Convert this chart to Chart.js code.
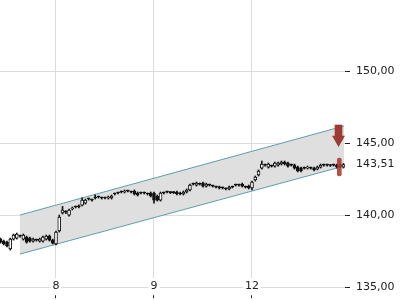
<!DOCTYPE html>
<html>
<head>
<meta charset="utf-8">
<script src="https://cdn.jsdelivr.net/npm/chart.js@4"></script>
<style>
  html, body { margin: 0; background: #fff; }
  #wrap { width: 400px; height: 300px; }
</style>
</head>
<body>
<div id="wrap"><canvas id="chart" width="400" height="300"></canvas></div>
<script>
// x axis day labels (trading days, weekend skipped)
const dayLabels = ["8", "9", "12"];

// sessions: tail of day 7, then 8, 9, 12
const sessionStart = [0, 1, 2, 3];
const sessionFirstSlot = [13, 0, 0, 0];
const sessionBars = [17, 30, 30, 29];
const slotsPerDay = 30;

const openPrices = [
  138.33, 138.19, 138.12, 137.64, 138.33, 138.40, 138.54, 138.33, 138.47, 138.40, 138.19, 138.26, 138.19, 138.19, 138.33, 138.54, 138.26,
  137.99, 138.89, 140.14, 140.20, 139.99, 140.42, 140.56, 140.63, 140.69, 140.83, 141.11, 141.04, 141.18, 141.25, 141.18,
  141.18, 141.18, 141.18, 141.46, 141.53, 141.60, 141.60, 141.67, 141.60, 141.67, 141.53, 141.53, 141.53, 141.46, 141.53,
  141.53, 141.32, 141.04, 141.53, 141.60, 141.56, 141.56, 141.60, 141.53, 141.46, 141.60, 141.74, 142.15, 142.08, 142.15,
  142.22, 142.01, 142.08, 142.01, 141.94, 141.94, 141.88, 141.81, 141.81, 141.94, 142.08, 142.08, 142.15, 141.94, 142.01,
  141.88, 142.43, 142.78, 143.26, 143.47, 143.33, 143.40, 143.40, 143.47, 143.54, 143.68, 143.61, 143.47, 143.47, 143.33,
  143.26, 143.26, 143.26, 143.26, 143.26, 143.19, 143.33, 143.47, 143.47, 143.44, 143.47, 143.47, 143.40, 143.33
];
const closePrices = [
  138.12, 137.99, 137.85, 138.33, 138.61, 138.68, 138.54, 138.61, 138.12, 138.19, 138.33, 138.26, 138.33, 138.47, 138.54, 138.26, 138.05,
  138.82, 139.86, 140.35, 140.20, 140.35, 140.49, 140.56, 140.56, 141.04, 141.04, 141.11, 141.04, 141.18, 141.25, 141.18,
  141.18, 141.25, 141.32, 141.46, 141.53, 141.60, 141.67, 141.67, 141.60, 141.46, 141.39, 141.53, 141.53, 141.46, 141.32,
  141.04, 141.04, 141.53, 141.53, 141.60, 141.56, 141.56, 141.46, 141.46, 141.60, 141.74, 142.08, 142.15, 142.22, 142.15,
  142.01, 142.15, 142.08, 142.01, 141.94, 141.88, 141.88, 141.81, 141.94, 141.94, 142.08, 142.08, 142.01, 141.94, 141.88,
  142.29, 142.64, 143.06, 143.54, 143.47, 143.54, 143.40, 143.61, 143.61, 143.68, 143.54, 143.40, 143.47, 143.26, 143.06,
  143.06, 143.26, 143.33, 143.26, 143.13, 143.33, 143.47, 143.47, 143.47, 143.44, 143.47, 143.33, 143.45, 143.51
];
const highPrices = [
  138.40, 138.26, 138.19, 138.40, 138.68, 138.75, 138.61, 138.68, 138.54, 138.47, 138.40, 138.33, 138.40, 138.54, 138.61, 138.61, 138.33,
  138.89, 140.00, 140.60, 140.30, 140.42, 140.56, 140.63, 140.70, 141.20, 141.11, 141.18, 141.11, 141.40, 141.32, 141.25,
  141.25, 141.32, 141.39, 141.53, 141.60, 141.67, 141.74, 141.74, 141.67, 141.74, 141.60, 141.60, 141.60, 141.53, 141.60,
  141.60, 141.39, 141.60, 141.60, 141.67, 141.63, 141.63, 141.67, 141.60, 141.67, 141.81, 142.15, 142.22, 142.29, 142.22,
  142.29, 142.22, 142.15, 142.08, 142.01, 142.01, 141.94, 141.88, 142.01, 142.01, 142.15, 142.15, 142.22, 142.01, 142.08,
  142.36, 142.71, 143.13, 143.75, 143.54, 143.61, 143.47, 143.68, 143.68, 143.75, 143.75, 143.68, 143.54, 143.54, 143.40,
  143.33, 143.33, 143.40, 143.33, 143.33, 143.40, 143.54, 143.54, 143.54, 143.51, 143.54, 143.54, 143.52, 143.58
];
const lowPrices = [
  138.05, 137.92, 137.78, 137.57, 138.26, 138.33, 138.47, 138.26, 138.05, 138.12, 138.12, 138.19, 138.12, 138.12, 138.26, 138.19, 137.99,
  137.92, 138.82, 140.07, 140.10, 139.92, 140.35, 140.49, 140.49, 140.63, 140.76, 141.04, 140.97, 141.11, 141.18, 141.11,
  141.11, 141.11, 141.11, 141.39, 141.46, 141.53, 141.53, 141.60, 141.53, 141.39, 141.32, 141.46, 141.46, 141.39, 141.25,
  140.83, 140.97, 140.97, 141.46, 141.53, 141.49, 141.49, 141.39, 141.39, 141.39, 141.53, 141.67, 142.08, 142.01, 142.08,
  141.94, 141.94, 142.01, 141.94, 141.88, 141.81, 141.81, 141.74, 141.74, 141.88, 142.01, 142.01, 141.94, 141.88, 141.81,
  141.74, 142.36, 142.71, 143.19, 143.40, 143.26, 143.33, 143.33, 143.40, 143.47, 143.47, 143.33, 143.40, 143.19, 142.99,
  142.99, 143.19, 143.19, 143.19, 143.06, 143.13, 143.26, 143.40, 143.40, 143.37, 143.40, 143.26, 143.33, 143.26
];

// trend channel
const channelX = [0.633, 3.939];
const channelTop = [140.0, 146.18];
const channelBottom = [137.29, 143.40];

// markers at the right end
const arrowX = 3.883;
const arrowShaft = [145.49, 146.25];
const arrowHead = 145.24;
const stopX = 3.891;
const stopRange = [142.71, 143.96];

const lastPrice = 143.51;
const yTicks = [135, 140, 145, 150];

const bodies = [], wicks = [], bodyColors = [];
let i = 0;
sessionBars.forEach((n, s) => {
  for (let k = 0; k < n; k++, i++) {
    const x = sessionStart[s] + (sessionFirstSlot[s] + k) / slotsPerDay;
    bodies.push({ x, y: [openPrices[i], closePrices[i]] });
    wicks.push({ x, y: [lowPrices[i], highPrices[i]] });
    bodyColors.push(closePrices[i] > openPrices[i] ? "#fff" : "#111");
  }
});

Chart.defaults.font.family = "'DejaVu Sans', sans-serif";
Chart.defaults.font.size = 11;
Chart.defaults.color = "#222";

const markerRed = "#9c3a34";
const noPadding = (s) => {
  s.paddingTop = 0; s.paddingBottom = 0; s.paddingLeft = 0; s.paddingRight = 0;
};

new Chart(document.getElementById("chart"), {
  type: "bar",
  data: {
    datasets: [
      {
        type: "line",
        data: channelX.map((x, j) => ({ x, y: channelTop[j] })),
        borderColor: "#5e9fa7", borderWidth: 1, pointRadius: 0,
        fill: "+1", backgroundColor: "#dfdfdf", order: 10
      },
      {
        type: "line",
        data: channelX.map((x, j) => ({ x, y: channelBottom[j] })),
        borderColor: "#5e9fa7", borderWidth: 1, pointRadius: 0,
        fill: false, order: 9
      },
      { data: wicks, backgroundColor: "#111", barThickness: 1, order: 5 },
      {
        data: bodies, backgroundColor: bodyColors, borderColor: "#111",
        borderWidth: 1, borderSkipped: false, barThickness: 3, minBarLength: 1, order: 4
      },
      { data: [{ x: arrowX, y: arrowShaft }], backgroundColor: markerRed, barThickness: 7, order: 2 },
      {
        type: "line", data: [{ x: arrowX, y: arrowHead }], showLine: false,
        pointStyle: "triangle", rotation: 180, pointRadius: 7.5,
        pointBackgroundColor: markerRed, pointBorderWidth: 0, order: 1
      },
      {
        data: [{ x: stopX, y: stopRange }], backgroundColor: "rgba(168,48,42,0.85)",
        barThickness: 4, borderRadius: 2, borderSkipped: false, order: 1
      }
    ]
  },
  options: {
    responsive: false,
    animation: false,
    layout: { padding: 0, autoPadding: false },
    datasets: { bar: { grouped: false } },
    plugins: { legend: { display: false }, tooltip: { enabled: false } },
    scales: {
      x: {
        type: "linear",
        position: { y: 135 },
        min: 0.4286,
        max: 3.949,
        offset: false,
        afterFit: noPadding,
        afterBuildTicks: (s) => { s.ticks = dayLabels.map((_, j) => ({ value: j + 1 })); },
        grid: { color: "#dcdcdc", tickColor: "#222", tickLength: 11, offset: false },
        border: { display: false },
        ticks: {
          padding: -18, autoSkip: false, maxRotation: 0,
          callback: (v, idx) => dayLabels[idx],
          showLabelBackdrop: true, backdropColor: "#fff",
          backdropPadding: { x: 2, y: 2 }
        }
      },
      y: {
        position: "right",
        min: 134.1,
        max: 154.93,
        afterFit: (s) => { s.width = 55; noPadding(s); },
        afterBuildTicks: (s) => {
          s.ticks = [...yTicks, lastPrice].sort((a, b) => a - b).map((v) => ({ value: v }));
        },
        grid: {
          color: (ctx) => (ctx.tick && ctx.tick.value === lastPrice ? "rgba(0,0,0,0)" : "#dcdcdc"),
          tickColor: (ctx) => (ctx.tick && ctx.tick.value === lastPrice ? "rgba(0,0,0,0)" : "#222"),
          tickLength: 5
        },
        border: { display: false },
        ticks: {
          padding: 6, autoSkip: false,
          callback: (v) => v.toFixed(2).replace(".", ",")
        }
      }
    }
  }
});
</script>
</body>
</html>
